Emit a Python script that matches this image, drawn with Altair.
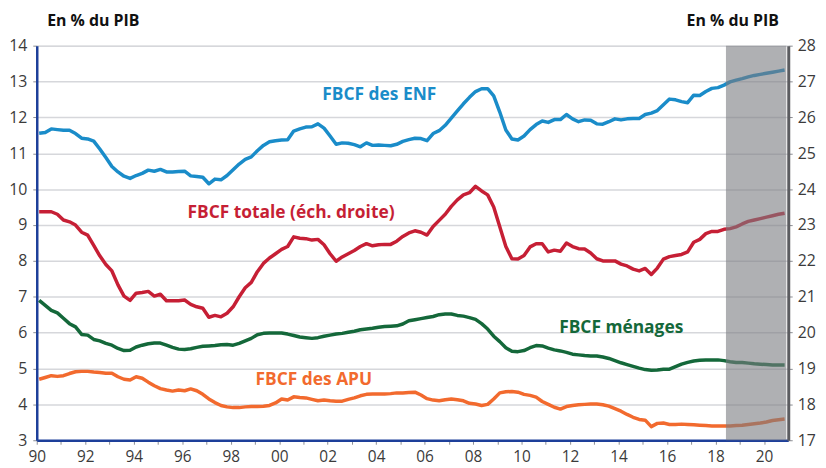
import altair as alt
import pandas as pd

years = list(range(1990, 2021))

# FBCF des ENF (% du PIB, left axis), quarterly
enf = [
    11.56, 11.58, 11.68, 11.66, 11.64, 11.64, 11.55, 11.42,
    11.40, 11.34, 11.12, 10.88, 10.63, 10.48, 10.36, 10.30,
    10.38, 10.44, 10.53, 10.50, 10.55, 10.48, 10.48, 10.49,
    10.50, 10.37, 10.35, 10.33, 10.15, 10.28, 10.26, 10.38,
    10.54, 10.70, 10.83, 10.90, 11.07, 11.22, 11.32, 11.35,
    11.37, 11.38, 11.62, 11.68, 11.73, 11.74, 11.82, 11.70,
    11.48, 11.25, 11.29, 11.28, 11.24, 11.18, 11.29, 11.22,
    11.23, 11.22, 11.21, 11.25, 11.33, 11.38, 11.42, 11.41,
    11.35, 11.55, 11.63, 11.78, 11.98, 12.18, 12.38, 12.56,
    12.72, 12.80, 12.80, 12.60, 12.15, 11.65, 11.40, 11.37,
    11.48, 11.66, 11.80, 11.90, 11.86, 11.94, 11.94, 12.08,
    11.96, 11.88, 11.93, 11.92, 11.82, 11.81, 11.88, 11.96,
    11.93, 11.96, 11.97, 11.97, 12.08, 12.12, 12.19, 12.35,
    12.51, 12.49, 12.44, 12.41, 12.62, 12.61, 12.72, 12.81,
    12.83, 12.90, 12.99, 13.04, 13.08, 13.13, 13.17, 13.20,
    13.23, 13.26, 13.29, 13.32,
]

# FBCF totale (% du PIB, right axis), quarterly
totale = [
    23.37, 23.37, 23.37, 23.30, 23.14, 23.09, 23.00, 22.80,
    22.72, 22.43, 22.14, 21.90, 21.72, 21.33, 21.02, 20.90,
    21.10, 21.12, 21.15, 21.02, 21.07, 20.89, 20.89, 20.89,
    20.91, 20.79, 20.72, 20.68, 20.43, 20.48, 20.44, 20.54,
    20.72, 21.00, 21.25, 21.40, 21.70, 21.93, 22.08, 22.20,
    22.32, 22.40, 22.67, 22.63, 22.62, 22.58, 22.60, 22.45,
    22.20, 21.99, 22.11, 22.20, 22.29, 22.40, 22.48, 22.42,
    22.45, 22.46, 22.46, 22.55, 22.68, 22.78, 22.84, 22.80,
    22.72, 22.96, 23.13, 23.30, 23.52, 23.70, 23.84, 23.90,
    24.08, 23.95, 23.84, 23.50, 22.95, 22.40, 22.06, 22.05,
    22.15, 22.39, 22.48, 22.48, 22.25, 22.30, 22.27, 22.50,
    22.40, 22.34, 22.33, 22.22, 22.06, 22.00, 22.00, 22.00,
    21.91, 21.86, 21.77, 21.72, 21.79, 21.62, 21.80, 22.05,
    22.12, 22.15, 22.18, 22.25, 22.52, 22.60, 22.76, 22.82,
    22.82, 22.88, 22.90, 22.95, 23.03, 23.10, 23.14, 23.18,
    23.22, 23.26, 23.30, 23.33,
]

# FBCF ménages (% du PIB, left axis), quarterly
menages = [
    6.90, 6.76, 6.62, 6.55, 6.40, 6.25, 6.16, 5.95,
    5.93, 5.81, 5.77, 5.70, 5.65, 5.56, 5.50, 5.51,
    5.60, 5.65, 5.69, 5.71, 5.71, 5.65, 5.59, 5.54,
    5.53, 5.55, 5.59, 5.62, 5.63, 5.64, 5.66, 5.67,
    5.65, 5.70, 5.77, 5.84, 5.94, 5.98, 5.99, 5.99,
    5.99, 5.96, 5.92, 5.88, 5.86, 5.84, 5.86, 5.90,
    5.93, 5.96, 5.98, 6.01, 6.04, 6.08, 6.10, 6.12,
    6.15, 6.17, 6.18, 6.19, 6.24, 6.33, 6.36, 6.39,
    6.42, 6.45, 6.50, 6.52, 6.52, 6.48, 6.46, 6.42,
    6.37, 6.25, 6.10, 5.90, 5.75, 5.58, 5.48, 5.47,
    5.50, 5.58, 5.64, 5.63, 5.57, 5.52, 5.49, 5.45,
    5.40, 5.38, 5.36, 5.35, 5.35, 5.32, 5.28, 5.22,
    5.16, 5.11, 5.06, 5.01, 4.97, 4.95, 4.96, 4.98,
    4.98, 5.05, 5.12, 5.17, 5.21, 5.23, 5.24, 5.24,
    5.24, 5.22, 5.19, 5.17, 5.17, 5.15, 5.13, 5.12,
    5.11, 5.10, 5.10, 5.10,
]

# FBCF des APU (% du PIB, left axis), quarterly
apu = [
    4.70, 4.75, 4.80, 4.78, 4.80, 4.86, 4.91, 4.92,
    4.92, 4.90, 4.89, 4.87, 4.87, 4.77, 4.70, 4.68,
    4.77, 4.73, 4.62, 4.52, 4.44, 4.40, 4.37, 4.40,
    4.38, 4.43, 4.38, 4.28, 4.15, 4.05, 3.97, 3.93,
    3.91, 3.91, 3.93, 3.94, 3.94, 3.95, 3.97, 4.04,
    4.15, 4.12, 4.21, 4.19, 4.18, 4.14, 4.10, 4.12,
    4.10, 4.09, 4.09, 4.14, 4.18, 4.24, 4.28, 4.29,
    4.29, 4.29, 4.30, 4.32, 4.32, 4.33, 4.34, 4.26,
    4.16, 4.12, 4.10, 4.13, 4.15, 4.13, 4.10, 4.03,
    4.01, 3.97, 4.00, 4.15, 4.32, 4.35, 4.36, 4.34,
    4.28, 4.25, 4.20, 4.08, 4.00, 3.92, 3.87, 3.94,
    3.97, 3.99, 4.00, 4.01, 4.01, 3.99, 3.95, 3.88,
    3.81, 3.72, 3.64, 3.58, 3.56, 3.38, 3.47, 3.48,
    3.44, 3.44, 3.45, 3.44, 3.43, 3.42, 3.41, 3.40,
    3.40, 3.40, 3.40, 3.41, 3.42, 3.44, 3.46, 3.48,
    3.51, 3.55, 3.57, 3.59,
]

series_left = ["FBCF des ENF", "FBCF ménages", "FBCF des APU"]
colors_left = ["#1a8cc9", "#14683a", "#f26a2e"]
color_total = "#c61f35"

forecast_start = 2018.43
forecast_end = 2020.92

label_text = ["FBCF des ENF", "FBCF ménages", "FBCF des APU"]
label_x = [2004.13, 2014.11, 2001.43]
label_y = [12.63, 6.12, 4.68]
label_total = "FBCF totale (éch. droite)"
label_total_x = 2000.49
label_total_y = 23.32

FONT = "Open Sans"

quarters = [y + 0.1 + 0.25 * q for y in years for q in range(4)]
df = pd.DataFrame({"t": quarters, "FBCF des ENF": enf, "FBCF ménages": menages,
                   "FBCF des APU": apu, "total": totale})
left_long = df.melt(id_vars="t", value_vars=series_left, var_name="serie", value_name="v")

xscale = alt.Scale(domain=[1990, 2021], nice=False, zero=False)
xaxis = alt.Axis(
    values=list(range(1990, 2021)),
    labelExpr="datum.value % 2 == 0 ? substring(toString(datum.value), 2, 4) : ''",
    title=None, grid=False,
    domainColor="#1d3f9a", domainWidth=2.5,
    tickColor="#8a8c92", tickSize=4, tickWidth=1,
    labelFont=FONT, labelFontSize=15.5, labelColor="#3b3b3b", labelPadding=5,
    labelFlush=False, labelOverlap=False,
)
yleft_scale = alt.Scale(domain=[3, 14], nice=False, zero=False)
yleft_axis = alt.Axis(
    values=list(range(3, 15)), grid=True, gridColor="#d6d7db", gridWidth=1.5,
    domainColor="#1d3f9a", domainWidth=2.5,
    tickColor="#8a8c92", tickSize=4, tickWidth=1,
    labelFont=FONT, labelFontSize=16, labelColor="#3b3b3b", labelPadding=6,
    title="En % du PIB", titleAngle=0, titleX=10, titleY=-25,
    titleAlign="left", titleBaseline="middle",
    titleFont=FONT, titleFontSize=16, titleFontWeight="bold", titleColor="#111111",
)
yright_scale = alt.Scale(domain=[17, 28], nice=False, zero=False)
yright_axis = alt.Axis(
    orient="right", values=list(range(17, 29)), grid=False,
    domainColor="#5b5c60", domainWidth=3,
    tickColor="#8a8c92", tickSize=4, tickWidth=1,
    labelFont=FONT, labelFontSize=16, labelColor="#3b3b3b", labelPadding=5,
    title="En % du PIB", titleAngle=0, titleX=-10, titleY=-25,
    titleAlign="right", titleBaseline="middle",
    titleFont=FONT, titleFontSize=16, titleFontWeight="bold", titleColor="#111111",
)

color_scale = alt.Scale(domain=series_left, range=colors_left)

lines_left = alt.Chart(left_long).mark_line(strokeWidth=3.5, strokeJoin="round").encode(
    x=alt.X("t:Q", scale=xscale, axis=xaxis),
    y=alt.Y("v:Q", scale=yleft_scale, axis=yleft_axis),
    color=alt.Color("serie:N", scale=color_scale, legend=None),
    detail="serie:N",
)

lab_df = pd.DataFrame({"t": label_x, "v": label_y, "serie": label_text})
labels_left = alt.Chart(lab_df).mark_text(
    font=FONT, fontSize=17.5, fontWeight="bold", align="center", baseline="middle"
).encode(
    x=alt.X("t:Q", scale=xscale, axis=xaxis),
    y=alt.Y("v:Q", scale=yleft_scale, axis=yleft_axis),
    text="serie:N",
    color=alt.Color("serie:N", scale=color_scale, legend=None),
)

left = alt.layer(lines_left, labels_left)

line_total = alt.Chart(df).mark_line(strokeWidth=3.5, strokeJoin="round", color=color_total).encode(
    x=alt.X("t:Q", scale=xscale, axis=xaxis),
    y=alt.Y("total:Q", scale=yright_scale, axis=yright_axis),
)
tot_df = pd.DataFrame({"t": [label_total_x], "total": [label_total_y], "txt": [label_total]})
label_tot = alt.Chart(tot_df).mark_text(
    font=FONT, fontSize=17.5, fontWeight="bold", align="center", baseline="middle", color=color_total
).encode(
    x=alt.X("t:Q", scale=xscale, axis=xaxis),
    y=alt.Y("total:Q", scale=yright_scale, axis=yright_axis),
    text="txt:N",
)
right = alt.layer(line_total, label_tot)

shade_df = pd.DataFrame({"a": [forecast_start], "b": [forecast_end]})
shade = alt.Chart(shade_df).mark_rect(color="#7a7b80", opacity=0.6).encode(
    x=alt.X("a:Q", scale=xscale, axis=xaxis),
    x2="b:Q",
    y=alt.value(0),
    y2=alt.value(398),
)

chart = alt.layer(left, right, shade).resolve_scale(y="independent").properties(
    width=758, height=398,
    autosize=alt.AutoSizeParams(type="none"),
    padding={"left": 29, "top": 36, "right": 30, "bottom": 26},
).configure_view(fill="#f1f2f4", stroke=None).configure(background="white")

chart.save("out.html", embed_options={"renderer": "svg", "actions": False})
